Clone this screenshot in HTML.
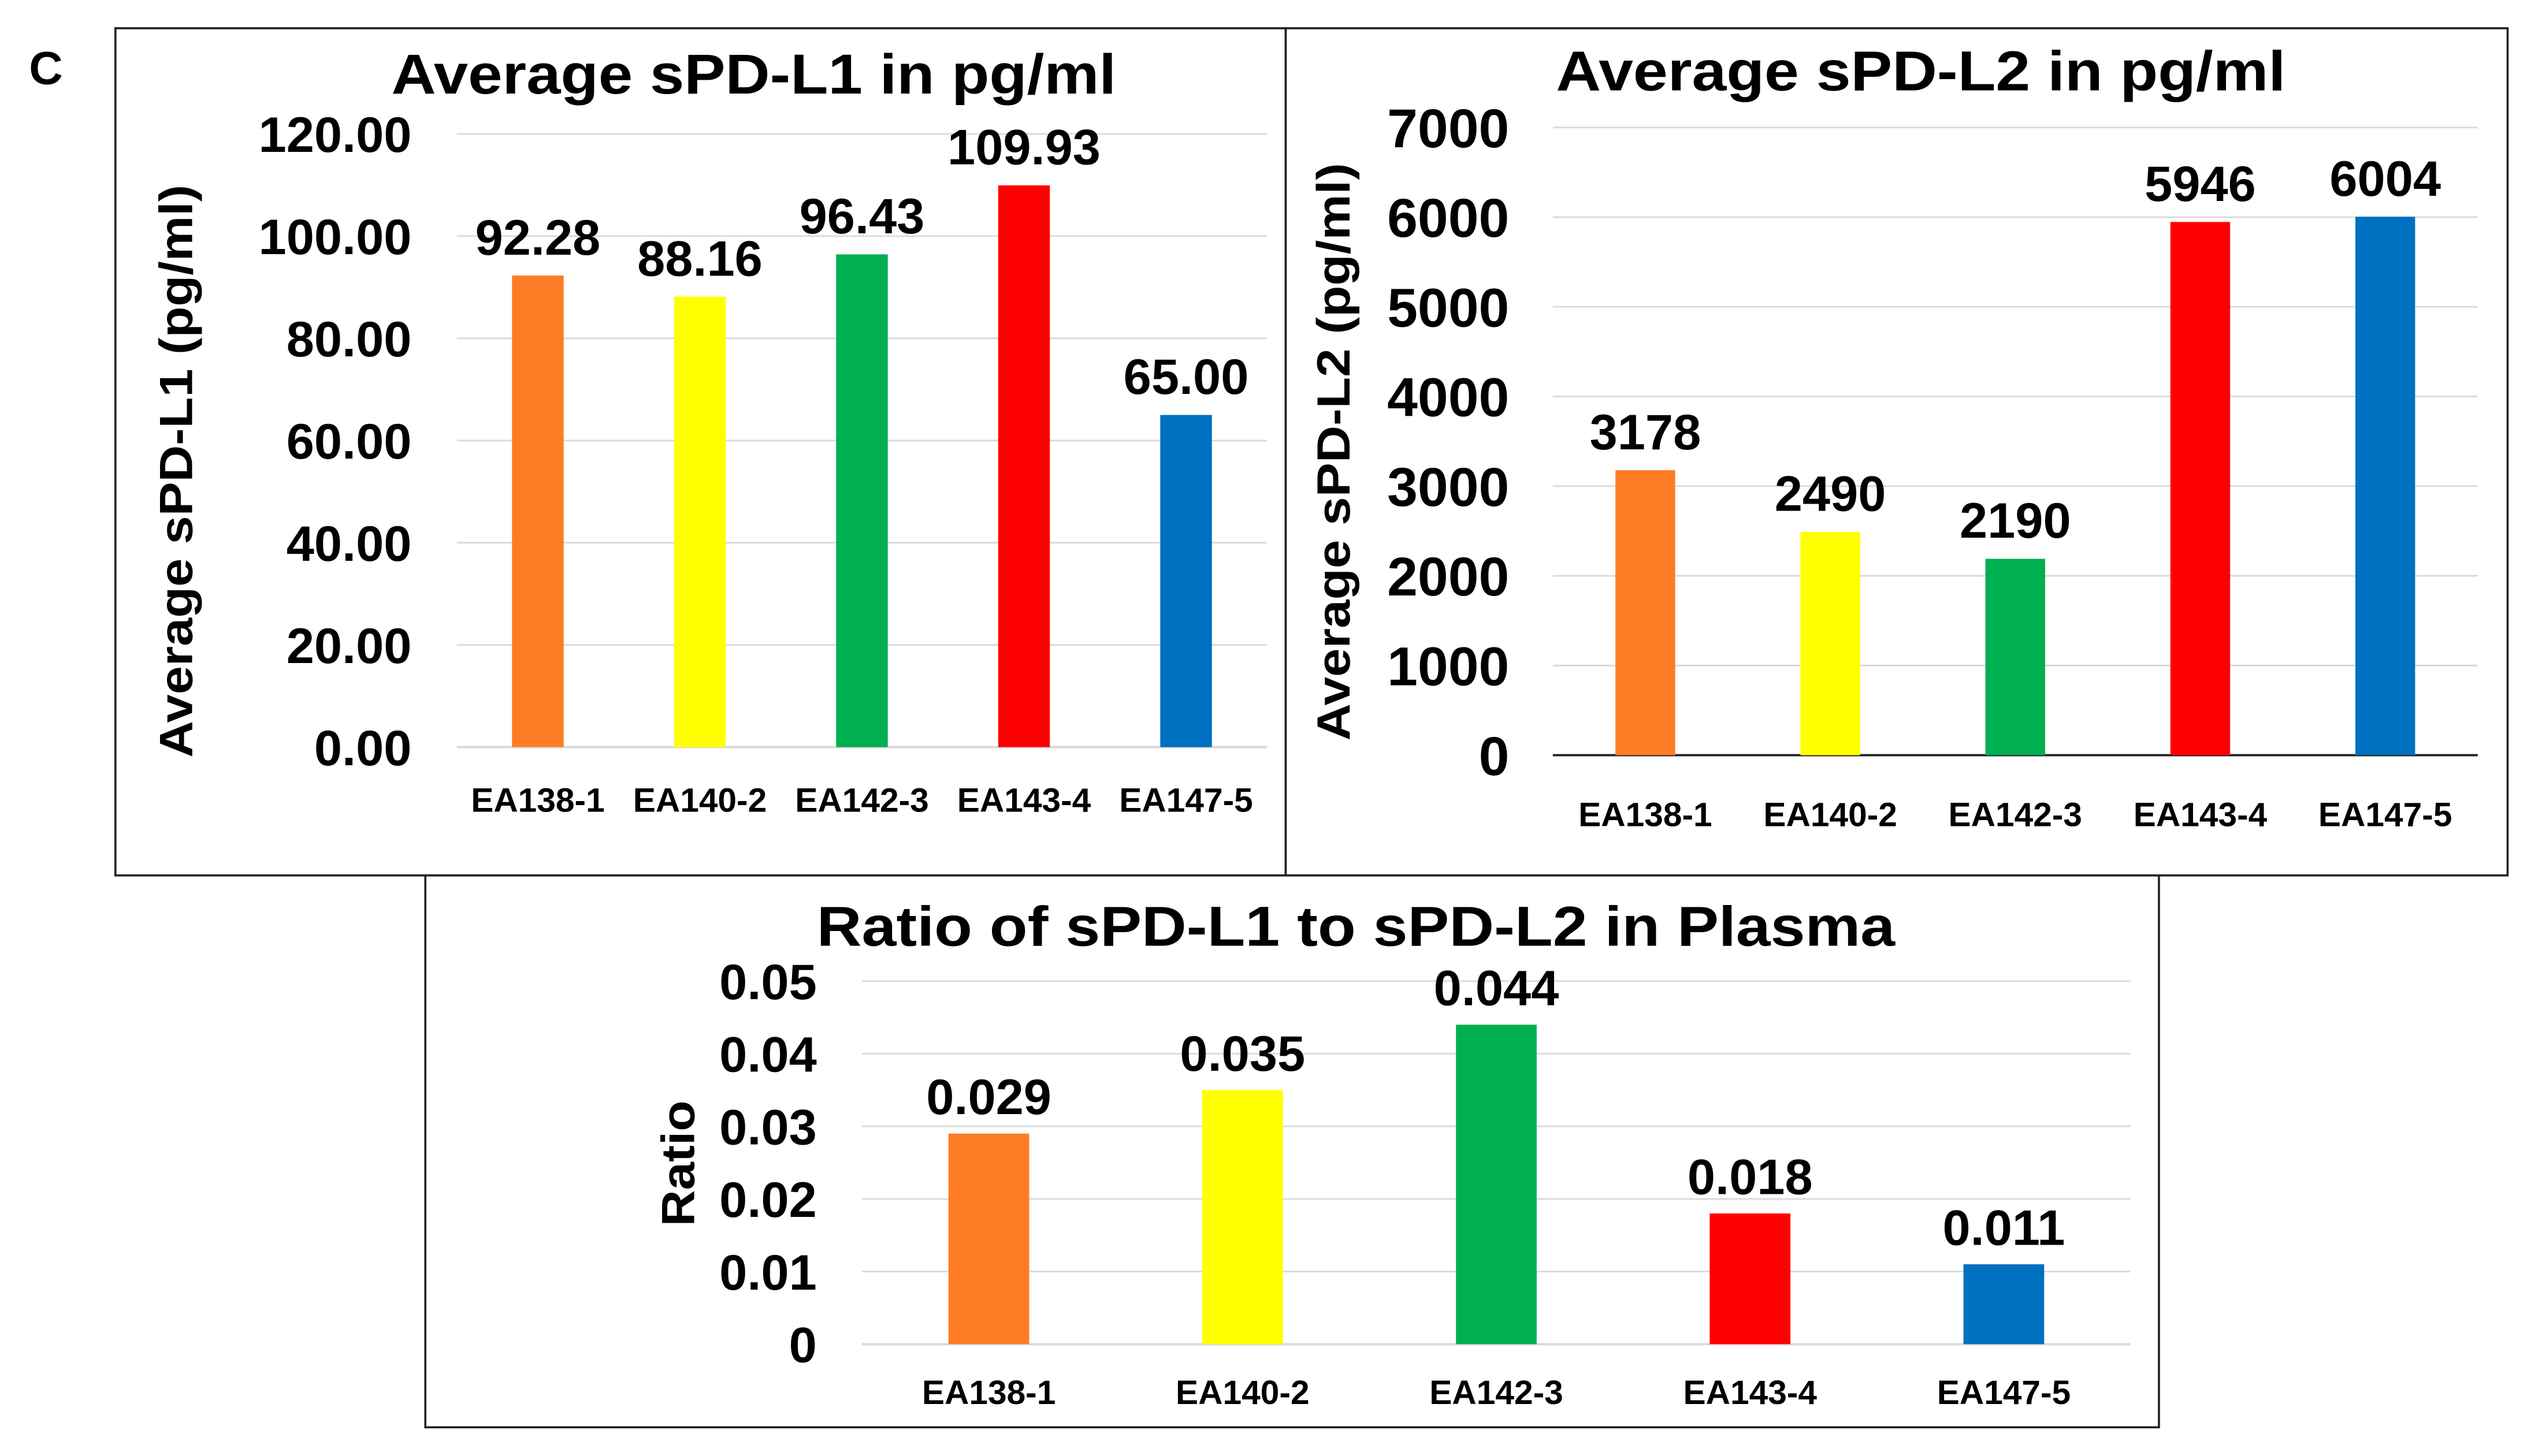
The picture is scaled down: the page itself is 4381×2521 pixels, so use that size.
<!DOCTYPE html>
<html><head><meta charset="utf-8">
<style>
html,body{margin:0;padding:0;background:#fff;}
svg{display:block;}
text{font-family:"Liberation Sans",Arial,sans-serif;font-weight:bold;fill:#000;}
</style></head>
<body>
<svg id="fig" width="4381" height="2521" viewBox="0 0 1568 902.3" preserveAspectRatio="none" xmlns="http://www.w3.org/2000/svg">
  <rect x="0" y="0" width="1568" height="902.3" fill="#fff"/>
  <text x="18" y="52" font-size="29">C</text>
  <rect x="71.5" y="17.5" width="725" height="525" fill="none" stroke="#222" stroke-width="1.3"/>
  <rect x="796.5" y="17.5" width="757" height="525" fill="none" stroke="#222" stroke-width="1.3"/>
  <rect x="263.5" y="542.5" width="1074" height="342" fill="none" stroke="#222" stroke-width="1.3"/>
  <g id="charts"></g>
</svg>
<script>
const categories = ["EA138-1","EA140-2","EA142-3","EA143-4","EA147-5"];
const colors = ["#FE7C25","#FFFF00","#00B050","#FF0000","#0070C0"];
const l1Values = [92.28, 88.16, 96.43, 109.93, 65.00];
const l1Labels = ["92.28","88.16","96.43","109.93","65.00"];
const l1Ticks = [0,20,40,60,80,100,120];
const l1TickLabels = ["0.00","20.00","40.00","60.00","80.00","100.00","120.00"];
const l2Values = [3178, 2490, 2190, 5946, 6004];
const l2Labels = ["3178","2490","2190","5946","6004"];
const l2Ticks = [0,1000,2000,3000,4000,5000,6000,7000];
const l2TickLabels = ["0","1000","2000","3000","4000","5000","6000","7000"];
const ratioValues = [0.029, 0.035, 0.044, 0.018, 0.011];
const ratioLabels = ["0.029","0.035","0.044","0.018","0.011"];
const ratioTicks = [0,0.01,0.02,0.03,0.04,0.05];
const ratioTickLabels = ["0","0.01","0.02","0.03","0.04","0.05"];

const NS = "http://www.w3.org/2000/svg";
const root = document.getElementById("charts");
function mk(tag, attrs, parent){
  const e = document.createElementNS(NS, tag);
  for (const k in attrs) e.setAttribute(k, attrs[k]);
  (parent||root).appendChild(e);
  return e;
}
function drawChart(cfg){
  const g = mk("g", {});
  
  
  const max = cfg.ticks[cfg.ticks.length-1];
  const y = v => cfg.y0 - (v/max)*(cfg.y0-cfg.yTop);
  const step = (cfg.x1-cfg.x0)/categories.length;
  const x = i => cfg.x0 + step*(i+0.5);
  const t = mk("text", {x:cfg.titleX, y:cfg.titleY, "font-size":cfg.titleSize, "text-anchor":"middle", textLength:cfg.titleLen, lengthAdjust:"spacingAndGlyphs"}, g);
  t.textContent = cfg.title;
  
  
  const yt = mk("text", {x:0, y:0, "font-size":cfg.yTitleSize, "text-anchor":"middle", textLength:cfg.yTitleLen, lengthAdjust:"spacingAndGlyphs", transform:`translate(${cfg.yTitleX},${cfg.yTitleY}) rotate(-90)`}, g);
  yt.textContent = cfg.yTitle;
  
  
  cfg.ticks.forEach((tv, i) => {
    const isBase = tv === 0;
    const ln = mk("line", {x1:cfg.x0, x2:cfg.x1, y1:y(tv), y2:y(tv), stroke: isBase ? cfg.baseColor : "#d9d9d9", "stroke-width": isBase ? 1.4 : 1}, g);
    
    
    const tl = mk("text", {x:cfg.tickX, y:y(tv)+cfg.tickSize*0.36, "font-size":cfg.tickSize, "text-anchor":"end"}, g);
    tl.textContent = cfg.tickLabels[i];
    
    
  });
  cfg.values.forEach((v, i) => {
    const b = mk("rect", {x:x(i)-cfg.barW/2, y:y(v), width:cfg.barW, height:cfg.y0-y(v), fill:colors[i]}, g);
    
    
    const vl = mk("text", {x:x(i), y:y(v)-cfg.valGap, "font-size":cfg.valSize, "text-anchor":"middle"}, g);
    vl.textContent = cfg.labels[i];
    
    
    const cl = mk("text", {x:x(i), y:cfg.catY, "font-size":cfg.catSize, "text-anchor":"middle"}, g);
    cl.textContent = categories[i];
    
    
  });
}
drawChart({name:"chart-spd-l1", title:"Average sPD-L1 in pg/ml", titleX:467, titleY:58, titleSize:35, titleLen:449,
  yTitle:"Average sPD-L1 (pg/ml)", yTitleX:119, yTitleY:292, yTitleSize:29, yTitleLen:355,
  x0:283, x1:785, y0:463, yTop:83, ticks:l1Ticks, tickLabels:l1TickLabels, tickX:255, tickSize:31,
  values:l1Values, labels:l1Labels, barW:32, valGap:13, valSize:31, catY:503, catSize:21, baseColor:"#d9d9d9"});
drawChart({name:"chart-spd-l2", title:"Average sPD-L2 in pg/ml", titleX:1190, titleY:56, titleSize:35, titleLen:452,
  yTitle:"Average sPD-L2 (pg/ml)", yTitleX:836, yTitleY:280, yTitleSize:29, yTitleLen:358,
  x0:962, x1:1535, y0:468, yTop:79, ticks:l2Ticks, tickLabels:l2TickLabels, tickX:935, tickSize:34,
  values:l2Values, labels:l2Labels, barW:37, valGap:13, valSize:31, catY:512, catSize:21, baseColor:"#222"});
drawChart({name:"chart-ratio", title:"Ratio of sPD-L1 to sPD-L2 in Plasma", titleX:840, titleY:586, titleSize:35, titleLen:668,
  yTitle:"Ratio", yTitleX:430, yTitleY:721, yTitleSize:29, yTitleLen:78,
  x0:534, x1:1320, y0:833, yTop:608, ticks:ratioTicks, tickLabels:ratioTickLabels, tickX:506, tickSize:31,
  values:ratioValues, labels:ratioLabels, barW:50, valGap:12, valSize:31, catY:870, catSize:21, baseColor:"#d9d9d9"});
</script>
</body></html>
